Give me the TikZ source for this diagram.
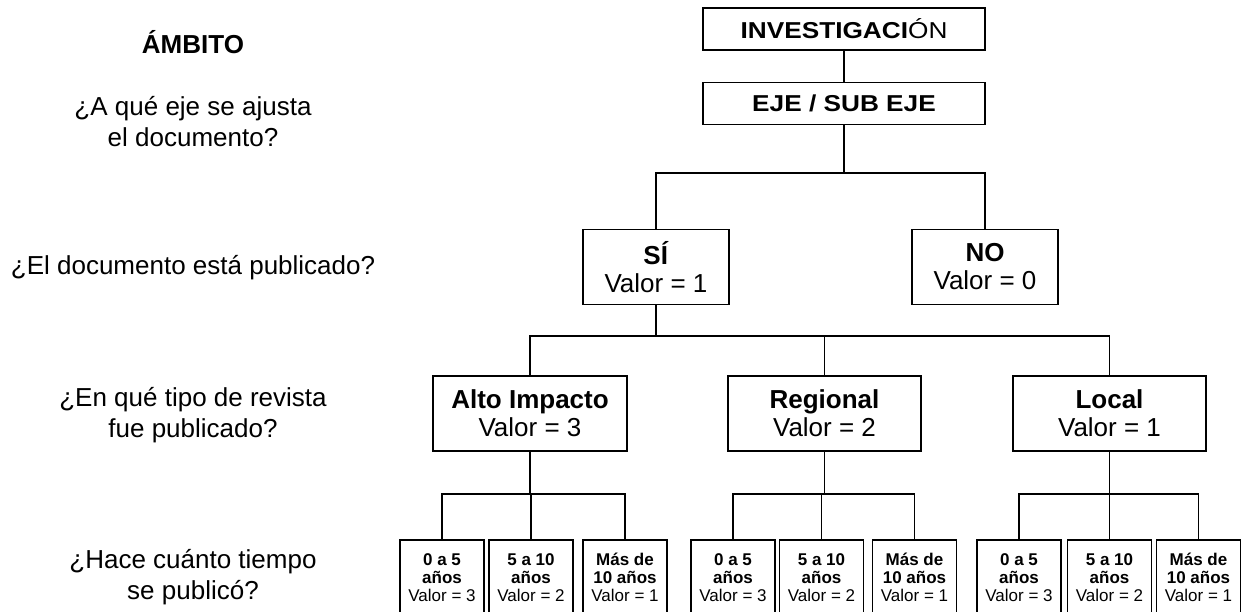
\documentclass[tikz,border=0pt]{standalone}
\usepackage{fontspec}
\setmainfont{Liberation Sans}
\newfontfamily\widefont[FakeStretch=1.14]{Liberation Sans}
\usetikzlibrary{positioning}

\tikzset{
  caja/.style={draw, align=center, inner sep=0pt},
  pregunta/.style={align=center, font=\fontsize{26}{31}\selectfont},
  titulo/.style={caja, minimum width=282pt, minimum height=42pt, font=\fontsize{23}{24}\selectfont\widefont},
  nivel/.style={caja, minimum height=75pt, font=\fontsize{26}{28}\selectfont},
  hoja/.style={caja, minimum width=84pt, minimum height=78pt, font=\fontsize{17}{18}\selectfont,
    text height=49pt, text depth=5pt}
}

\begin{document}
\begin{tikzpicture}[x=1pt, y=-1pt, line width=1.4pt]
    \useasboundingbox (0,0) rectangle (1241,611);
    \clip (0,0) rectangle (1241,611);

    % Preguntas de la izquierda
    \node[pregunta] (ambito) at (193,42) {\textbf{ÁMBITO}};
    \node[pregunta] (q1) at (193,122) {¿A qué eje se ajusta\\el documento?};
    \node[pregunta] (q2) at (193,268) {¿El documento está publicado?};
    \node[pregunta] (q3) at (193,415) {¿En qué tipo de revista\\fue publicado?};
    \node[pregunta] (q4) at (193,577) {¿Hace cuánto tiempo\\se publicó?};

    % Alturas de las barras
    \coordinate (B1) at (0,173);
    \coordinate (B2) at (0,336);
    \coordinate (B3) at (0,494);

    % Cabecera
    \node[titulo] (inv) at (844,29) {\textbf{INVESTIGACI}ÓN};
    \node[titulo] (eje) at (844,103.5) {\textbf{EJE / SUB EJE}};
    \draw (inv.south) -- (eje.north);

    % Publicado o no
    \node[nivel, minimum width=146pt] (si) at (656,267) {\textbf{SÍ}\\Valor = 1};
    \node[nivel, minimum width=146pt] (no) at (985,267) {\textbf{NO}\\Valor = 0};
    \draw (eje.south) -- (eje.south |- B1);
    \draw (si.north) -- (si.north |- B1) -| (no.north);

    % Tipo de revista
    \node[nivel, minimum width=194pt] (alto) at (530,413.5) {\textbf{Alto Impacto}\\Valor = 3};
    \node[nivel, minimum width=193pt] (reg) at (824.5,413.5) {\textbf{Regional}\\Valor = 2};
    \node[nivel, minimum width=193pt] (loc) at (1109.5,413.5) {\textbf{Local}\\Valor = 1};
    \draw (si.south) -- (si.south |- B2);
    \draw (alto.north) -- (alto.north |- B2) -| (loc.north);
    \draw (reg.north) -- (reg.north |- B2);

    % Antiguedad - alto impacto
    \node[hoja] (a1) at (442,579) {\textbf{0 a 5}\\\textbf{años}\\Valor = 3};
    \node[hoja] (a2) at (531,579) {\textbf{5 a 10}\\\textbf{años}\\Valor = 2};
    \node[hoja] (a3) at (625,579) {\textbf{Más de}\\\textbf{10 años}\\Valor = 1};
    \draw (alto.south) -- (alto.south |- B3);
    \draw (a1.north) -- (a1.north |- B3) -| (a3.north);
    \draw (a2.north) -- (a2.north |- B3);

    % Antiguedad - regional
    \node[hoja] (r1) at (733,579) {\textbf{0 a 5}\\\textbf{años}\\Valor = 3};
    \node[hoja] (r2) at (821.5,579) {\textbf{5 a 10}\\\textbf{años}\\Valor = 2};
    \node[hoja] (r3) at (914.5,579) {\textbf{Más de}\\\textbf{10 años}\\Valor = 1};
    \draw (reg.south) -- (reg.south |- B3);
    \draw (r1.north) -- (r1.north |- B3) -| (r3.north);
    \draw (r2.north) -- (r2.north |- B3);

    % Antiguedad - local
    \node[hoja] (l1) at (1019,579) {\textbf{0 a 5}\\\textbf{años}\\Valor = 3};
    \node[hoja] (l2) at (1109.5,579) {\textbf{5 a 10}\\\textbf{años}\\Valor = 2};
    \node[hoja] (l3) at (1198.5,579) {\textbf{Más de}\\\textbf{10 años}\\Valor = 1};
    \draw (loc.south) -- (loc.south |- B3);
    \draw (l1.north) -- (l1.north |- B3) -| (l3.north);
    \draw (l2.north) -- (l2.north |- B3);

\end{tikzpicture}
\end{document}
